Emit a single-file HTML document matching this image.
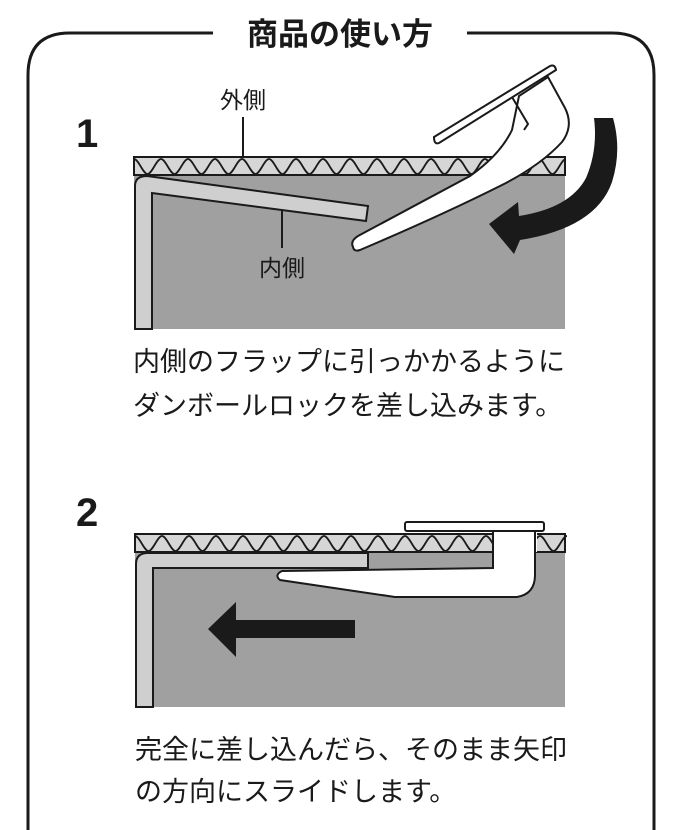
<!DOCTYPE html>
<html><head><meta charset="utf-8"><style>
html,body{margin:0;padding:0;background:#fff;width:680px;height:830px;overflow:hidden}
svg{display:block}
text{font-family:"Liberation Sans","Noto Sans CJK JP",sans-serif;fill:#1a1a1a}
</style></head><body>
<svg width="680" height="830" viewBox="0 0 680 830" xmlns="http://www.w3.org/2000/svg">
<!-- frame -->
<path d="M28,840 L28,75 Q28,33 70,33 L213,33 M467,33 L612,33 Q654,33 654,75 L654,840" fill="none" stroke="#1a1a1a" stroke-width="3"/>
<text x="340" y="45" font-size="31" font-weight="bold" text-anchor="middle">商品の使い方</text>

<!-- SECTION 1 -->
<text x="76" y="147" font-size="40" font-weight="bold">1</text>
<rect x="134" y="175" width="431" height="154" fill="#a0a0a0"/>
<rect x="134" y="157" width="431" height="18" fill="#d6d6d6" stroke="#1a1a1a" stroke-width="2"/>
<path d="M134,159 c4.5,0 9,15 13.5,15 c4.5,0 9,-15 13.5,-15 c4.5,0 9,15 13.5,15 c4.5,0 9,-15 13.5,-15 c4.5,0 9,15 13.5,15 c4.5,0 9,-15 13.5,-15 c4.5,0 9,15 13.5,15 c4.5,0 9,-15 13.5,-15 c4.5,0 9,15 13.5,15 c4.5,0 9,-15 13.5,-15 c4.5,0 9,15 13.5,15 c4.5,0 9,-15 13.5,-15 c4.5,0 9,15 13.5,15 c4.5,0 9,-15 13.5,-15 c4.5,0 9,15 13.5,15 c4.5,0 9,-15 13.5,-15 c4.5,0 9,15 13.5,15 c4.5,0 9,-15 13.5,-15 c4.5,0 9,15 13.5,15 c4.5,0 9,-15 13.5,-15 c4.5,0 9,15 13.5,15 c4.5,0 9,-15 13.5,-15 c4.5,0 9,15 13.5,15 c4.5,0 9,-15 13.5,-15 c4.5,0 9,15 13.5,15 c4.5,0 9,-15 13.5,-15 c4.5,0 9,15 13.5,15 c4.5,0 9,-15 13.5,-15 c4.5,0 9,15 13.5,15 c4.5,0 9,-15 13.5,-15 c4.5,0 9,15 13.5,15 c4.5,0 9,-15 13.5,-15" fill="none" stroke="#1a1a1a" stroke-width="1.8"/>
<!-- inner flap -->
<path d="M135,329 L135,186 Q135,176 147,176 L368,206 L366,221 L152,193 L152,329 Z" fill="#cfcfcf" stroke="#1a1a1a" stroke-width="2"/>
<!-- labels -->
<text x="243" y="108" font-size="23" text-anchor="middle">外側</text>
<line x1="243" y1="117" x2="243" y2="157" stroke="#1a1a1a" stroke-width="2"/>
<line x1="282" y1="211" x2="282" y2="248" stroke="#1a1a1a" stroke-width="2"/>
<text x="282" y="276" font-size="23" text-anchor="middle">内側</text>
<!-- lock 1 -->
<path d="M353,247 Q350,241 358,236 L470,176 Q500,155 512,130 L519,96 L548,77 L565,108 Q574,126 562,142 Q540,166 500,186 Q440,216 360,250 Q354,252 353,247 Z" fill="#fff" stroke="#1a1a1a" stroke-width="2"/>
<path d="M512,97 L528,124 L524,130" fill="none" stroke="#1a1a1a" stroke-width="2"/>
<path d="M434,137 L550,66 Q555,64 556,70 L439,143 Q434,145 434,137 Z" fill="#fff" stroke="#1a1a1a" stroke-width="2"/>
<!-- curved arrow -->
<path d="M594,118 L613,118 Q622,150 612,182 Q596,228 520,240 L514,254 L489,224 L518,202 L519,216 Q570,208 586,178 Q598,150 594,118 Z" fill="#1a1a1a"/>

<text x="133" y="371" font-size="27">内側のフラップに引っかかるように</text>
<text x="133" y="415" font-size="27">ダンボールロックを差し込みます。</text>

<!-- SECTION 2 -->
<text x="76" y="526" font-size="40" font-weight="bold">2</text>
<rect x="135" y="552" width="430" height="155" fill="#a0a0a0"/>
<rect x="135" y="534" width="430" height="18" fill="#d6d6d6" stroke="#1a1a1a" stroke-width="2"/>
<path d="M135,536 c4.5,0 9,15 13.5,15 c4.5,0 9,-15 13.5,-15 c4.5,0 9,15 13.5,15 c4.5,0 9,-15 13.5,-15 c4.5,0 9,15 13.5,15 c4.5,0 9,-15 13.5,-15 c4.5,0 9,15 13.5,15 c4.5,0 9,-15 13.5,-15 c4.5,0 9,15 13.5,15 c4.5,0 9,-15 13.5,-15 c4.5,0 9,15 13.5,15 c4.5,0 9,-15 13.5,-15 c4.5,0 9,15 13.5,15 c4.5,0 9,-15 13.5,-15 c4.5,0 9,15 13.5,15 c4.5,0 9,-15 13.5,-15 c4.5,0 9,15 13.5,15 c4.5,0 9,-15 13.5,-15 c4.5,0 9,15 13.5,15 c4.5,0 9,-15 13.5,-15 c4.5,0 9,15 13.5,15 c4.5,0 9,-15 13.5,-15 c4.5,0 9,15 13.5,15 c4.5,0 9,-15 13.5,-15 c4.5,0 9,15 13.5,15 c4.5,0 9,-15 13.5,-15 c4.5,0 9,15 13.5,15 c4.5,0 9,-15 13.5,-15 c4.5,0 9,15 13.5,15 c4.5,0 9,-15 13.5,-15 c4.5,0 9,15 13.5,15 c4.5,0 9,-15 13.5,-15" fill="none" stroke="#1a1a1a" stroke-width="1.8"/>
<path d="M136,707 L136,564 Q136,553 148,553 L368,553 L368,568 L153,568 L153,707 Z" fill="#cfcfcf" stroke="#1a1a1a" stroke-width="2"/>
<!-- lock 2 -->
<rect x="493" y="532" width="44" height="20" fill="#fff"/>
<path d="M493,531 L493,568 L282,571 Q274,575 280,580 L395,597 L517,597 Q535,594 535,575 L535,531" fill="#fff" stroke="#1a1a1a" stroke-width="2"/>
<rect x="405" y="522" width="139" height="9" rx="2" fill="#fff" stroke="#1a1a1a" stroke-width="2"/>
<!-- arrow 2 -->
<path d="M355,620 L236,620 L236,602 L208,629 L236,657 L236,638 L355,638 Z" fill="#1a1a1a"/>

<text x="135" y="759" font-size="27">完全に差し込んだら、そのまま矢印</text>
<text x="135" y="801" font-size="27">の方向にスライドします。</text>
</svg>
</body></html>
